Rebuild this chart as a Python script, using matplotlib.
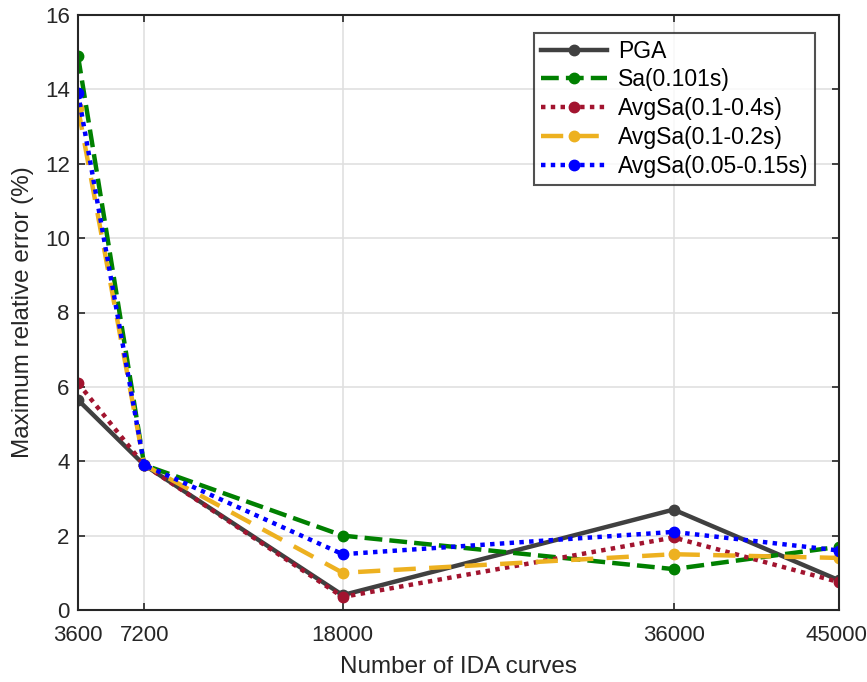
import matplotlib
matplotlib.use("Agg")
import matplotlib.pyplot as plt
import matplotlib.transforms as mtransforms

plt.rcParams['font.family'] = ['Liberation Sans', 'DejaVu Sans']

x = [3600, 7200, 18000, 36000, 45000]
xticklabels = ['3600', '7200', '18000', '36000', '45000']
pga = [5.65, 3.9, 0.4, 2.7, 0.8]
sa = [14.9, 3.9, 2.0, 1.1, 1.7]
avg_01_04 = [6.1, 3.9, 0.35, 1.95, 0.75]
avg_01_02 = [13.5, 3.9, 1.0, 1.5, 1.4]
avg_005_015 = [13.9, 3.9, 1.5, 2.1, 1.6]

fig = plt.figure(figsize=(8.67, 6.82), dpi=100)
ax = fig.add_axes([78/867, 72/682, (839-78)/867, (610-15)/682])

lw = 3.2
ms = 7.5
ax.plot(x, pga, color='#404040', linestyle='-', lw=lw, marker='o', ms=ms, label='PGA')
ax.plot(x, sa, color='#008000', linestyle=(0, (4, 1.6)), lw=lw, marker='o', ms=ms, label='Sa(0.101s)')
ax.plot(x, avg_01_04, color='#A2142F', linestyle=(0, (1, 1.2)), lw=lw, marker='o', ms=ms, label='AvgSa(0.1-0.4s)')
ax.plot(x, avg_01_02, color='#EDB120', linestyle=(0, (5, 3)), lw=lw, marker='o', ms=ms, label='AvgSa(0.1-0.2s)')
ax.plot(x, avg_005_015, color='#0000FF', linestyle=(0, (1, 1.2)), lw=lw, marker='o', ms=ms, label='AvgSa(0.05-0.15s)')

ax.set_xlim(3600, 45000)
ax.set_ylim(0, 16)
ax.set_xticks(x)
ax.set_xticklabels(xticklabels)
ax.set_yticks(range(0, 17, 2))
ax.tick_params(direction='in', labelsize=16, colors='#262626', length=5, width=1.2, top=True, right=True)
ax.tick_params(axis='x', pad=11)
ax.tick_params(axis='y', pad=6)
last = ax.get_xticklabels()[-1]
last.set_transform(last.get_transform() + mtransforms.ScaledTranslation(-3/100, 0, fig.dpi_scale_trans))
for sp in ax.spines.values():
    sp.set_color('#262626')
    sp.set_linewidth(1.5)
ax.grid(True, color='#e0e0e0', linewidth=1.2)
ax.set_axisbelow(True)
ax.set_xlabel('Number of IDA curves', fontsize=17.5, color='#262626', labelpad=7)
ax.set_ylabel('Maximum relative error (%)', fontsize=17.5, color='#262626', labelpad=8)

leg = ax.legend(loc='upper right', bbox_to_anchor=(0.9685, 0.97), fontsize=16.5, frameon=True,
                fancybox=False, edgecolor='#262626', handlelength=2.9, borderpad=0.3,
                labelspacing=0.25, handletextpad=0.45, borderaxespad=0)
leg.get_frame().set_linewidth(1.5)

fig.savefig('out.png', dpi=100)
